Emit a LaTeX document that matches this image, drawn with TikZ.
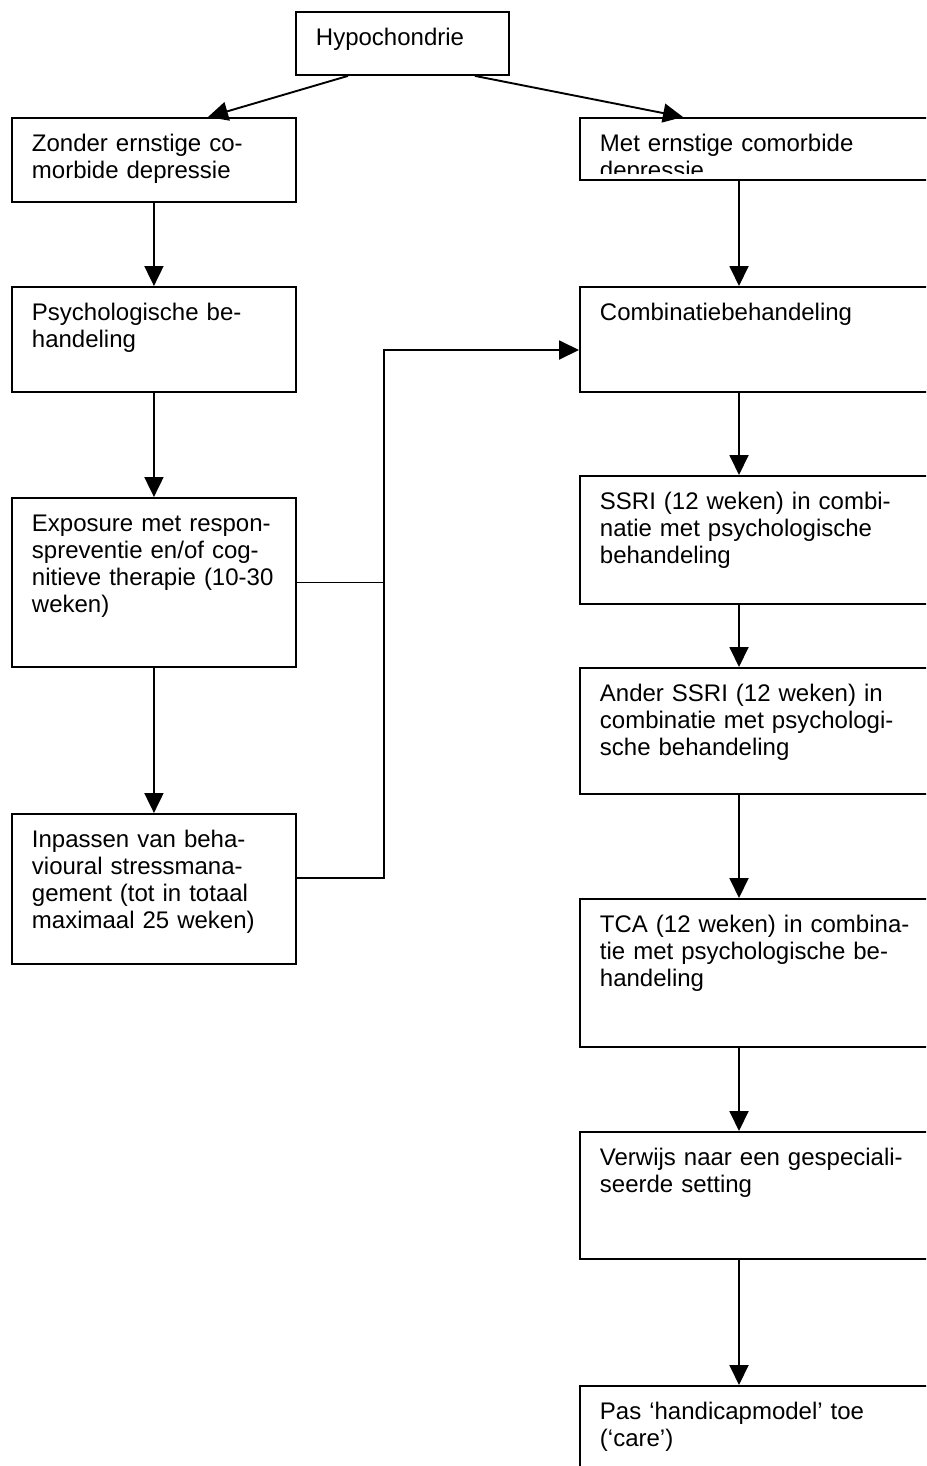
\documentclass[tikz,border=0pt]{standalone}
\usepackage{fontspec}
\setmainfont{Liberation Sans}
\usetikzlibrary{arrows.meta}

\tikzset{
  box/.style = {
    rectangle,                  % all boxes are plain rectangles
    draw          = black,      % border
    line width    = 1.9pt,      % border width
    anchor        = north west, % placed by top left corner
    align         = left,       % text flush left
    inner xsep    = 20pt,       % sep b/w border and inner text
    inner ysep    = 17pt,       %
    text height   = 17pt,       % first line sits at the top
    font          = \fontsize{24pt}{27pt}\selectfont,%
    text          = black,      % inner label color
  },
  leftbox/.style  = {box, text width = 244pt},
  rightbox/.style = {box, text width = 320pt},
  link/.style  = {draw = black, line width = 1.9pt},
  arrow/.style = {link, -{Triangle[length=20pt, width=19pt]}},
}

\begin{document}
\begin{tikzpicture}[x=1pt, y=-1pt]
\useasboundingbox (0,0) rectangle (926,1466);
\clip (0,0) rectangle (926,1466);

% top
\node at (295, 11) [box, text width = 173pt, text depth = 12pt] (hypo) {Hypochondrie};

% left column
\node at (11, 117) [leftbox, text depth = 33pt]  (zonder) {Zonder ernstige co-\\morbide depressie};
\node at (11, 286) [leftbox, text depth = 54pt]  (psych)  {Psychologische be-\\handeling};
\node at (11, 497) [leftbox, text depth = 118pt] (expo)   {Exposure met respon-\\spreventie en/of cog-\\nitieve therapie (10-30\\weken)};
\node at (11, 813) [leftbox, text depth = 99pt]  (inpas)  {Inpassen van beha-\\vioural stressmana-\\gement (tot in totaal\\maximaal 25 weken)};

% right column
\node at (579, 117)  [rightbox, text depth = 11pt] (met) {};
\begin{scope}
  \clip (met.north west) rectangle ([yshift=7pt]met.south east);
  \node at (met.north west) [rightbox, draw = none] (met-text) {Met ernstige comorbide\\depressie};
\end{scope}
\node at (579, 286)  [rightbox, text depth = 54pt] (combi)   {Combinatiebehandeling};
\node at (579, 475)  [rightbox, text depth = 77pt] (ssri)    {SSRI (12 weken) in combi-\\natie met psychologische\\behandeling};
\node at (579, 667)  [rightbox, text depth = 75pt] (ander)   {Ander SSRI (12 weken) in\\combinatie met psychologi-\\sche behandeling};
\node at (579, 898)  [rightbox, text depth = 97pt] (tca)     {TCA (12 weken) in combina-\\tie met psychologische be-\\handeling};
\node at (579, 1131) [rightbox, text depth = 76pt] (verwijs) {Verwijs naar een gespeciali-\\seerde setting};
\node at (579, 1385) [rightbox, text depth = 69pt] (pas)     {Pas ‘handicapmodel’ toe\\(‘care’)};

% arrows
\draw[arrow] ([xshift=53pt]hypo.south west)  -- ([xshift=197pt]zonder.north west);
\draw[arrow] ([xshift=-35pt]hypo.south east) -- ([xshift=104pt]met.north west);

\draw[arrow] (zonder.south) -- (psych.north);
\draw[arrow] (psych.south)  -- (expo.north);
\draw[arrow] (expo.south)   -- (inpas.north);

\draw[arrow] ([xshift=160pt]met.south west)     -- ([xshift=160pt]combi.north west);
\draw[arrow] ([xshift=160pt]combi.south west)   -- ([xshift=160pt]ssri.north west);
\draw[arrow] ([xshift=160pt]ssri.south west)    -- ([xshift=160pt]ander.north west);
\draw[arrow] ([xshift=160pt]ander.south west)   -- ([xshift=160pt]tca.north west);
\draw[arrow] ([xshift=160pt]tca.south west)     -- ([xshift=160pt]verwijs.north west);
\draw[arrow] ([xshift=160pt]verwijs.south west) -- ([xshift=160pt]pas.north west);

% left column joins the combination treatment
\coordinate (bend) at (384, 350);
\draw[link]  (expo.east) -- (expo.east -| bend);
\draw[arrow] ([yshift=-65pt]inpas.north east) -| (bend) -- (bend -| combi.west);
\end{tikzpicture}
\end{document}
